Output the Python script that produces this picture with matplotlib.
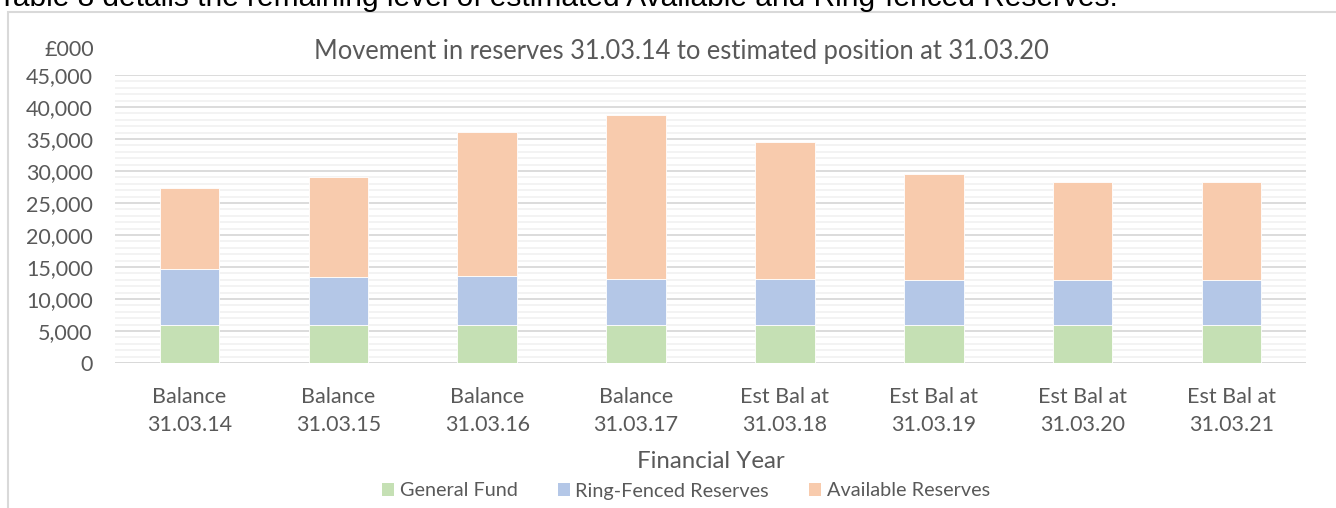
import matplotlib
matplotlib.use('Agg')
import matplotlib.pyplot as plt
from matplotlib.patches import Rectangle, Patch
from matplotlib.ticker import MultipleLocator, FuncFormatter

categories = ["Balance\n31.03.14", "Balance\n31.03.15", "Balance\n31.03.16", "Balance\n31.03.17",
              "Est Bal at\n31.03.18", "Est Bal at\n31.03.19", "Est Bal at\n31.03.20", "Est Bal at\n31.03.21"]
general_fund = [5900, 5900, 5900, 5900, 5900, 5900, 5900, 5900]
ring_fenced = [8800, 7600, 7700, 7200, 7270, 7120, 7120, 7120]
available = [12600, 15560, 22500, 25700, 21310, 16510, 15210, 15210]

series = [
    ("General Fund", general_fund, "#C5E0B4"),
    ("Ring-Fenced Reserves", ring_fenced, "#B4C7E7"),
    ("Available Reserves", available, "#F8CBAD"),
]

FONT = ["Lato", "DejaVu Sans"]
TXT = "#595959"

W, H = 1336, 508
fig = plt.figure(figsize=(W / 100, H / 100), dpi=100)
ax = fig.add_axes([115 / W, 1 - 363 / H, (1306 - 115) / W, (363 - 75) / H])

x = list(range(len(categories)))
bottom = [0] * len(categories)
for name, vals, color in series:
    ax.bar(x, vals, width=0.4, bottom=bottom, color=color, edgecolor="white",
           linewidth=0.6, label=name, zorder=3)
    bottom = [b + v for b, v in zip(bottom, vals)]

ax.set_xlim(-0.5, len(categories) - 0.5)
ax.set_ylim(0, 45000)
ax.yaxis.set_major_locator(MultipleLocator(5000))
ax.yaxis.set_minor_locator(MultipleLocator(1000))
ax.yaxis.set_major_formatter(FuncFormatter(lambda v, p: f"{int(v):,}"))
ax.grid(True, axis="y", which="major", color="#D9D9D9", linewidth=1.3, zorder=1)
ax.grid(True, axis="y", which="minor", color="#F2F2F2", linewidth=1.3, zorder=0)
for s in ax.spines.values():
    s.set_visible(False)
ax.axhline(0, color="#D9D9D9", linewidth=1.3, zorder=2)
ax.tick_params(axis="both", which="both", length=0)
ax.tick_params(axis="y", pad=16)
ax.tick_params(axis="x", pad=17)
ax.set_xticks(x)
ax.set_xticklabels(categories, linespacing=1.52)
for lbl in ax.get_xticklabels() + ax.get_yticklabels():
    lbl.set_family(FONT)
    lbl.set_fontsize(15.5)
    lbl.set_color(TXT)

ax.set_xlabel("Financial Year", family=FONT, fontsize=17.3, color=TXT, labelpad=11.5)

fig.text(681 / W, 1 - 52 / H, "Movement in reserves 31.03.14 to estimated position at 31.03.20",
         ha="center", va="center", family=FONT, fontsize=18.4, color=TXT)
fig.text(94 / W, 1 - 50 / H, "£000", ha="right", va="center", family=FONT, fontsize=15.5, color=TXT)

# surrounding chart frame and cut-off sentence above it
fig.patches.append(Rectangle((8 / W, -0.1), 1.2, 1 - 12 / H + 0.1, transform=fig.transFigure,
                             fill=False, edgecolor="#D9D9D9", linewidth=1.5))
fig.text(-2 / W, 1 - 6 / H, "Table 8 details the remaining level of estimated Available and Ring-fenced Reserves.",
         ha="left", va="baseline", family=["Liberation Sans", "DejaVu Sans"], fontsize=21.5, color="black")

handles = [Patch(facecolor=c, label=n) for n, _, c in series]
fig.legend(handles=handles, loc="center", bbox_to_anchor=(686 / W, 1 - 491 / H), ncol=3,
           frameon=False, prop={"family": FONT, "size": 14.3}, labelcolor=TXT,
           handlelength=0.6, handleheight=0.6, handletextpad=0.3, columnspacing=2.0)

fig.savefig("out.png", dpi=100)
